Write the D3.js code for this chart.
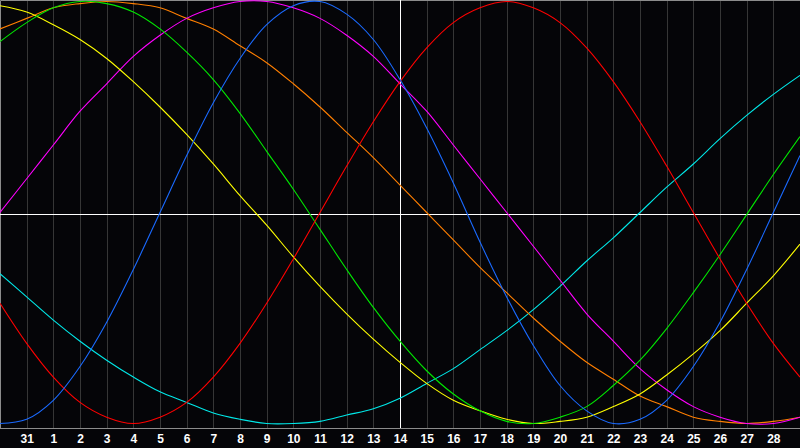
<!DOCTYPE html>
<html>
<head>
<meta charset="utf-8">
<script src="https://cdn.jsdelivr.net/npm/d3@7"></script>
<style>
  html, body { margin: 0; padding: 0; background: #050508; }
  svg { display: block; }
</style>
</head>
<body>
<div id="chart"></div>
<script>
// day labels, one per grid column (first and last sit on the edges)
const days = ["30", "31", "1", "2", "3", "4", "5", "6", "7", "8", "9", "10", "11", "12", "13",
  "14", "15", "16", "17", "18", "19", "20", "21", "22", "23", "24", "25", "26", "27", "28", "29"];

// cycle values in percent, one per day
const physical = [-100, -98, -89, -73, -52, -27, 0, 27, 52, 73, 89, 98, 100, 94, 82,
  63, 40, 14, -14, -40, -63, -82, -94, -100, -98, -89, -73, -52, -27, 0, 27];
const emotional = [-43, -62, -78, -90, -97, -100, -97, -90, -78, -62, -43, -22, 0, 22, 43,
  62, 78, 90, 97, 100, 97, 90, 78, 62, 43, 22, 0, -22, -43, -62, -78];
const intellectual = [81, 90, 97, 100, 99, 95, 87, 76, 63, 47, 29, 11, -8, -27, -45,
  -61, -75, -86, -94, -99, -100, -97, -92, -82, -70, -55, -38, -20, -1, 18, 36];
const intuitive = [0, 16, 32, 48, 61, 74, 84, 92, 97, 100, 100, 97, 92, 84, 74,
  61, 48, 32, 16, 0, -16, -32, -48, -61, -74, -84, -92, -97, -100, -100, -97];
const aesthetic = [98, 95, 89, 82, 73, 62, 50, 37, 23, 8, -6, -21, -35, -48, -60,
  -71, -81, -89, -94, -98, -100, -99, -97, -92, -86, -77, -67, -56, -43, -30, -15];
const awareness = [87, 92, 97, 99, 100, 99, 97, 92, 87, 79, 71, 61, 50, 38, 26,
  13, 0, -13, -26, -38, -50, -61, -71, -79, -87, -92, -97, -99, -100, -99, -97];
const spiritual = [-29, -40, -51, -61, -70, -78, -85, -90, -95, -98, -100, -100, -99, -96, -93,
  -88, -81, -74, -65, -56, -46, -35, -23, -12, 0, 12, 23, 35, 46, 56, 65];

const series = [
  { name: "spiritual", color: "#00e8e8", values: spiritual },
  { name: "awareness", color: "#ff7f00", values: awareness },
  { name: "intuitive", color: "#ff00ff", values: intuitive },
  { name: "aesthetic", color: "#ffff00", values: aesthetic },
  { name: "intellectual", color: "#00e800", values: intellectual },
  { name: "emotional", color: "#ff0000", values: emotional },
  { name: "physical", color: "#1a6aff", values: physical }
];

const width = 800, height = 448, plotBottom = 428;
const todayIndex = days.indexOf("14");

const svg = d3.select("#chart")
  .append("svg")
  .attr("width", width)
  .attr("height", height);

svg.append("rect")
  .attr("width", width)
  .attr("height", height)
  .attr("fill", "#050508");

const x = d3.scaleLinear()
  .domain([0, days.length - 1])
  .range([0, width]);

const y = d3.scaleLinear()
  .domain([-100, 100])
  .range([423.5, 1.5]);

// vertical day grid
const inner = d3.range(1, days.length - 1);
svg.append("g")
  .selectAll("line")
  .data(inner)
  .join("line")
  .attr("x1", d => Math.round(x(d)) + 0.5)
  .attr("x2", d => Math.round(x(d)) + 0.5)
  .attr("y1", 0)
  .attr("y2", plotBottom)
  .attr("stroke", "#363636")
  .attr("stroke-width", 1);

// frame
svg.append("path")
  .attr("d", `M0.5,${plotBottom + 0.5}V0.5H${width}M0,${plotBottom + 0.5}H${width}`)
  .attr("fill", "none")
  .attr("stroke", "#8c8c8c")
  .attr("stroke-width", 1);

// today and zero lines
svg.append("line")
  .attr("x1", 0).attr("x2", width)
  .attr("y1", Math.round(y(0)) + 1.5).attr("y2", Math.round(y(0)) + 1.5)
  .attr("stroke", "#ffffff");

svg.append("line")
  .attr("x1", Math.round(x(todayIndex)) + 0.5).attr("x2", Math.round(x(todayIndex)) + 0.5)
  .attr("y1", 0).attr("y2", plotBottom)
  .attr("stroke", "#ffffff");

const line = d3.line()
  .x((d, i) => x(i))
  .y(d => y(d))
  .curve(d3.curveCatmullRom.alpha(0.5));

svg.append("g")
  .selectAll("path")
  .data(series)
  .join("path")
  .attr("d", d => line(d.values))
  .attr("fill", "none")
  .attr("stroke", d => d.color)
  .attr("stroke-width", 1.1);

// day labels
const axis = svg.append("g")
  .attr("transform", `translate(0, ${plotBottom})`)
  .call(d3.axisBottom(x)
    .tickValues(inner)
    .tickSize(0)
    .tickPadding(6)
    .tickFormat(i => days[i]));

axis.select(".domain").remove();
axis.selectAll("text")
  .attr("fill", "#ffffff")
  .attr("dy", "0.71em")
  .style("font-family", "'Liberation Sans', Arial, sans-serif")
  .style("font-size", "12px")
  .style("font-weight", "bold");
</script>
</body>
</html>
